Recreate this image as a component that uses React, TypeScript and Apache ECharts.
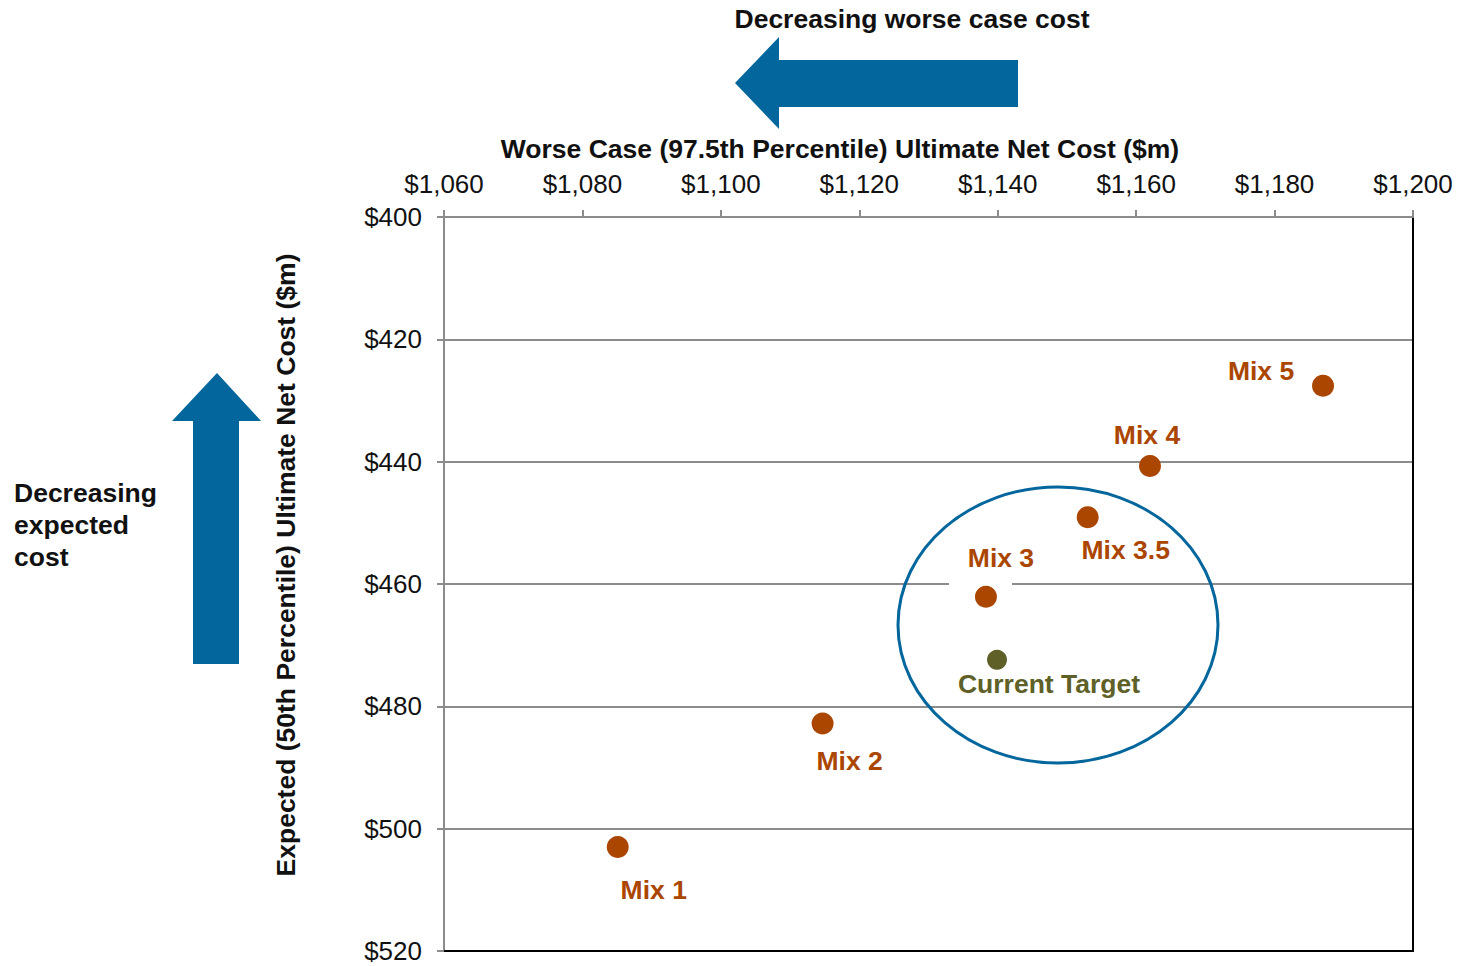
import React, { useEffect, useRef } from "react";
import * as echarts from "echarts";

const mixNames = ["Mix 1", "Mix 2", "Mix 3", "Mix 3.5", "Mix 4", "Mix 5"];
const mixWorstCase = [1085.1, 1114.7, 1138.3, 1153.0, 1162.0, 1187.0];
const mixExpected = [503.0, 482.8, 462.1, 449.1, 440.7, 427.6];

const targetName = "Current Target";
const targetWorstCase = 1139.9;
const targetExpected = 472.4;

const xTicks = { min: 1060, max: 1200, interval: 20 };
const yTicks = { min: 400, max: 520, interval: 20 };

const xName = "Worse Case (97.5th Percentile) Ultimate Net Cost ($m)";
const yName = "Expected (50th Percentile) Ultimate Net Cost ($m)";

// label placement (layout only)
const labelOffsets: Record<string, [number, number]> = {
  "Mix 1": [36, 43],
  "Mix 2": [27, 38],
  "Mix 3": [15, -39],
  "Mix 3.5": [38, 33],
  "Mix 4": [-3, -31],
  "Mix 5": [-62, -15],
  "Current Target": [52, 24],
};

const FONT = "'Liberation Sans', Arial, Helvetica, sans-serif";
const ORANGE = "#AB4600";
const OLIVE = "#5E6027";
const BLUE = "#03669C";
const GRID = "#8c8c8c";
const BOLD_SIZE = 26.5;
const TICK_SIZE = 26;

const fmtMoney = (v: number) => "$" + v.toLocaleString("en-US");

export default function App() {
  const ref = useRef<HTMLDivElement>(null);
  useEffect(() => {
    if (!ref.current) return;
    const chart = echarts.init(ref.current, null, { renderer: "svg" });
    const option: any = {
      animation: false,
      backgroundColor: "#ffffff",
      textStyle: { fontFamily: FONT },
      grid: { left: 444, top: 217, width: 969, height: 734, containLabel: false },
      xAxis: [
        {
          type: "value",
          position: "top",
          min: xTicks.min,
          max: xTicks.max,
          interval: xTicks.interval,
          axisLine: { show: true, onZero: false, lineStyle: { color: GRID, width: 2 } },
          axisTick: { show: true, length: 7, lineStyle: { color: GRID, width: 2 } },
          axisLabel: { formatter: fmtMoney, fontSize: TICK_SIZE, color: "#111", margin: 20, fontFamily: FONT },
          splitLine: { show: false },
        },
        {
          type: "value",
          position: "bottom",
          min: xTicks.min,
          max: xTicks.max,
          interval: xTicks.interval,
          axisLine: { show: true, onZero: false, lineStyle: { color: "#000", width: 2 } },
          axisTick: { show: false },
          axisLabel: { show: false },
          splitLine: { show: false },
        },
      ],
      yAxis: [
        {
          type: "value",
          position: "left",
          inverse: true,
          min: yTicks.min,
          max: yTicks.max,
          interval: yTicks.interval,
          axisLine: { show: true, onZero: false, lineStyle: { color: GRID, width: 2 } },
          axisTick: { show: true, length: 7, lineStyle: { color: GRID, width: 2 } },
          axisLabel: { formatter: fmtMoney, fontSize: TICK_SIZE, color: "#111", margin: 22, fontFamily: FONT },
          splitLine: { show: true, lineStyle: { color: GRID, width: 2 } },
        },
        {
          type: "value",
          position: "right",
          inverse: true,
          min: yTicks.min,
          max: yTicks.max,
          interval: yTicks.interval,
          axisLine: { show: true, onZero: false, lineStyle: { color: "#000", width: 2 } },
          axisTick: { show: false },
          axisLabel: { show: false },
          splitLine: { show: false },
        },
      ],
      graphic: [
        {
          type: "polygon",
          z: 1,
          shape: { points: [[735, 83], [779, 37], [779, 60], [1018, 60], [1018, 107], [779, 107], [779, 129]] },
          style: { fill: BLUE },
        },
        {
          type: "polygon",
          z: 1,
          shape: { points: [[217, 373], [261, 421], [239, 421], [239, 664], [193, 664], [193, 421], [172, 421]] },
          style: { fill: BLUE },
        },
        {
          type: "text",
          x: 912,
          y: 19,
          style: {
            text: "Decreasing worse case cost",
            fontSize: BOLD_SIZE,
            fontWeight: "bold",
            fontFamily: FONT,
            fill: "#111",
            textAlign: "center",
            textVerticalAlign: "middle",
            align: "center",
            verticalAlign: "middle",
          },
        },
        {
          type: "text",
          x: 840,
          y: 149,
          style: {
            text: xName,
            fontSize: BOLD_SIZE,
            fontWeight: "bold",
            fontFamily: FONT,
            fill: "#111",
            textAlign: "center",
            textVerticalAlign: "middle",
            align: "center",
            verticalAlign: "middle",
          },
        },
        {
          type: "text",
          x: 286,
          y: 565,
          rotation: Math.PI / 2,
          style: {
            text: yName,
            fontSize: BOLD_SIZE,
            fontWeight: "bold",
            fontFamily: FONT,
            fill: "#111",
            textAlign: "center",
            textVerticalAlign: "middle",
            align: "center",
            verticalAlign: "middle",
          },
        },
        {
          type: "text",
          x: 14,
          y: 477,
          style: {
            text: "Decreasing\nexpected\ncost",
            fontSize: BOLD_SIZE,
            fontWeight: "bold",
            fontFamily: FONT,
            fill: "#111",
            lineHeight: 32,
            textAlign: "left",
            textVerticalAlign: "top",
            align: "left",
            verticalAlign: "top",
          },
        },
        {
          type: "ellipse",
          z: 3,
          shape: { cx: 1058, cy: 625, rx: 160, ry: 138 },
          style: { fill: "none", stroke: BLUE, lineWidth: 3 },
        },
        {
          type: "rect",
          z: 4,
          shape: { x: 949, y: 527, width: 63, height: 59 },
          style: { fill: "#ffffff" },
        },
      ],
      series: [
        {
          type: "scatter",
          name: "Mixes",
          z: 10,
          symbol: "circle",
          symbolSize: 22,
          itemStyle: { color: ORANGE, opacity: 1 },
          data: mixNames.map((n, i) => ({
            name: n,
            value: [mixWorstCase[i], mixExpected[i]],
            label: { offset: labelOffsets[n] },
          })),
          label: {
            show: true,
            position: "inside",
            formatter: (p: any) => p.name,
            color: ORANGE,
            fontSize: BOLD_SIZE,
            fontWeight: "bold",
            fontFamily: FONT,
          },
        },
        {
          type: "scatter",
          name: targetName,
          z: 10,
          symbol: "circle",
          symbolSize: 20,
          itemStyle: { color: OLIVE, opacity: 1 },
          data: [
            {
              name: targetName,
              value: [targetWorstCase, targetExpected],
              label: { offset: labelOffsets[targetName] },
            },
          ],
          label: {
            show: true,
            position: "inside",
            formatter: (p: any) => p.name,
            color: OLIVE,
            fontSize: BOLD_SIZE,
            fontWeight: "bold",
            fontFamily: FONT,
          },
        },
      ],
    };
    chart.setOption(option);
    return () => chart.dispose();
  }, []);
  return (
    <div
      ref={ref}
      style={{ position: "fixed", left: 0, top: 0, width: 1459, height: 966, background: "#fff" }}
    />
  );
}
